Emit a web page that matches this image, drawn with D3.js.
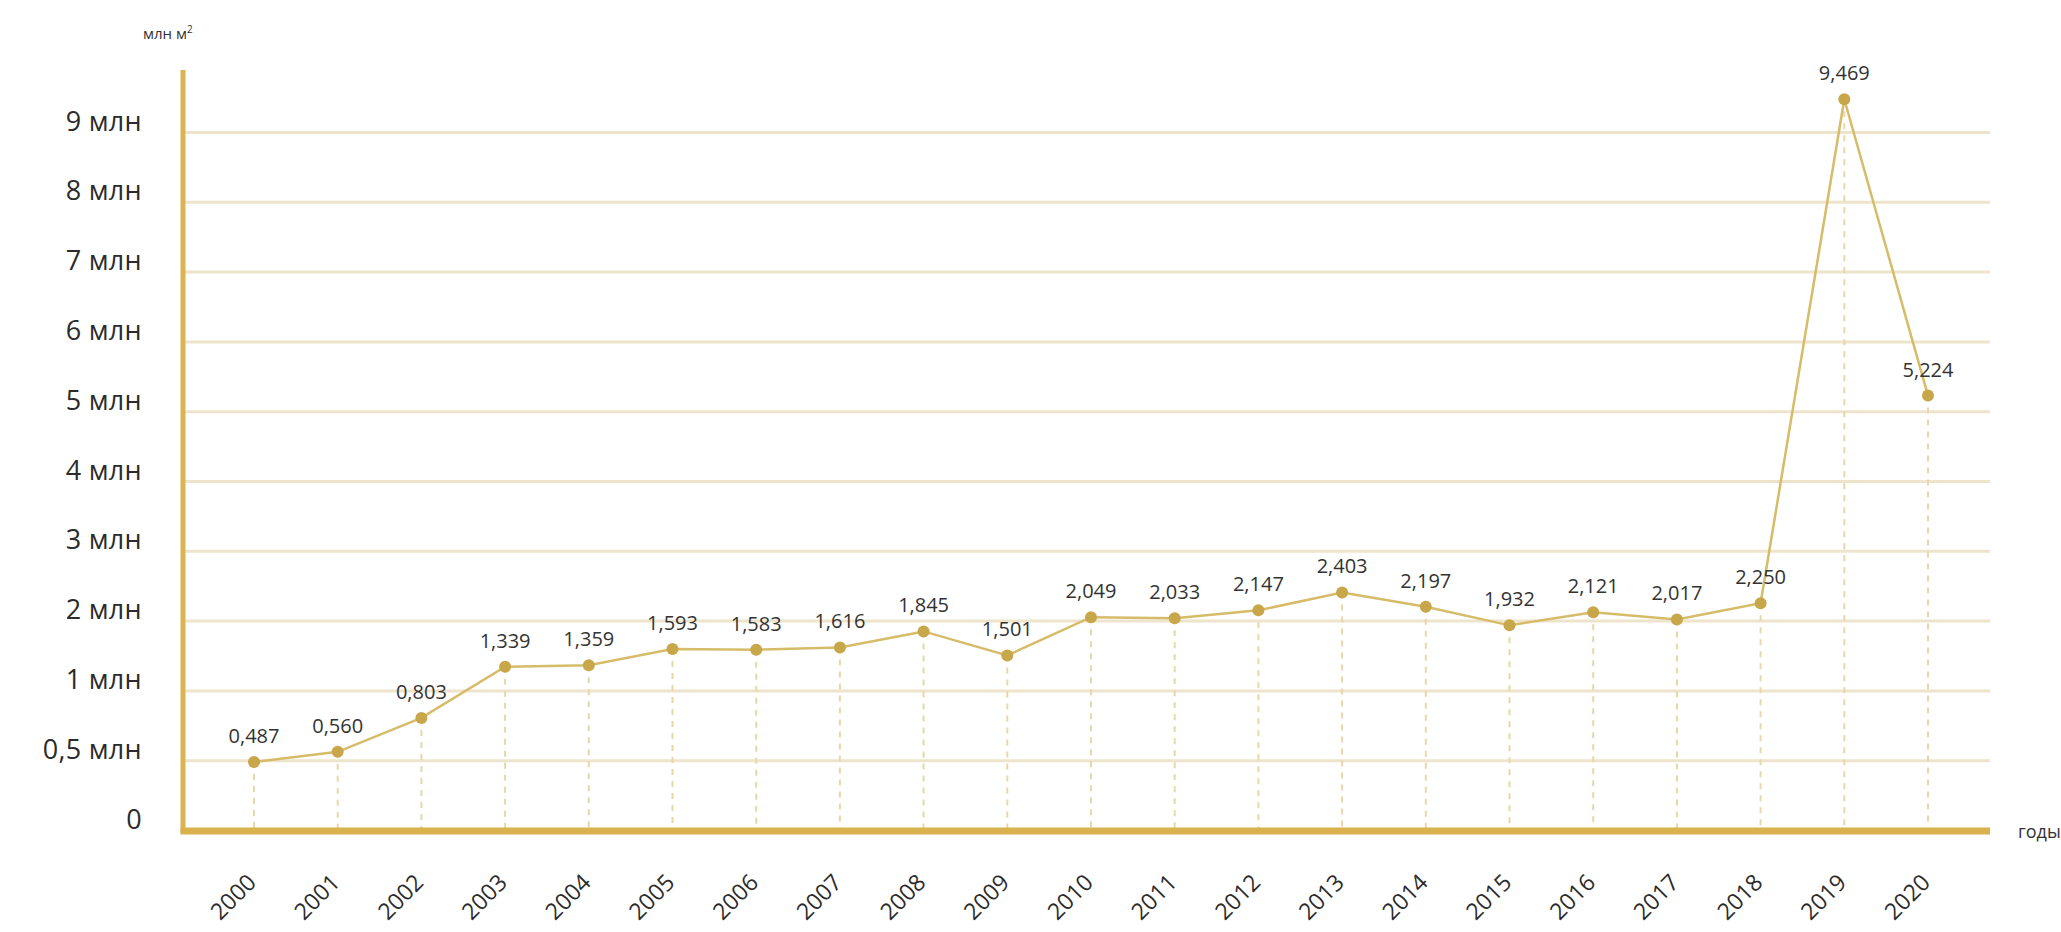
<!DOCTYPE html>
<html>
<head>
<meta charset="utf-8">
<script src="https://cdn.jsdelivr.net/npm/d3@7"></script>
<style>
  html, body { margin: 0; padding: 0; background: #ffffff; }
  svg { display: block; font-family: "Open Sans", "Noto Sans", sans-serif; }
</style>
</head>
<body>
<svg id="chart" width="2061" height="932"></svg>
<script>
// ---- data ----
const years = ["2000","2001","2002","2003","2004","2005","2006","2007","2008","2009","2010",
               "2011","2012","2013","2014","2015","2016","2017","2018","2019","2020"];
const values = [0.487, 0.560, 0.803, 1.339, 1.359, 1.593, 1.583, 1.616, 1.845, 1.501, 2.049,
                2.033, 2.147, 2.403, 2.197, 1.932, 2.121, 2.017, 2.250, 9.469, 5.224];
const valueLabels = ["0,487","0,560","0,803","1,339","1,359","1,593","1,583","1,616","1,845","1,501","2,049",
                     "2,033","2,147","2,403","2,197","1,932","2,121","2,017","2,250","9,469","5,224"];
const yTickValues = [0, 0.5, 1, 2, 3, 4, 5, 6, 7, 8, 9];
const yTickLabels = ["0", "0,5 млн", "1 млн", "2 млн", "3 млн", "4 млн", "5 млн", "6 млн", "7 млн", "8 млн", "9 млн"];
const yTitle = "млн м";
const xTitle = "годы";

// ---- layout ----
const svg = d3.select("#chart");
const axisX = 183, plotRight = 1990;
const yBottom = 830, yTop = 132;
const step = (yBottom - yTop) / (yTickValues.length - 1);

const x = d3.scalePoint().domain(years).range([254, 1928]);
const y = d3.scaleLinear()
  .domain(yTickValues)
  .range(yTickValues.map((d, i) => yBottom - i * step));

// gridlines + y labels
const yAxis = d3.axisLeft(y)
  .tickValues(yTickValues)
  .tickFormat((d, i) => yTickLabels[i])
  .tickSize(-(plotRight - axisX))
  .tickPadding(41);
const gy = svg.append("g").attr("transform", `translate(${axisX},0)`).call(yAxis);
gy.select(".domain").remove();
gy.selectAll(".tick line").attr("stroke", "#eee4cc").attr("stroke-width", 3);
gy.selectAll(".tick text")
  .attr("dy", -2)
  .attr("fill", "#2b2b2b")
  .style("font-size", "27px")
  .style("letter-spacing", "0.3px")
  .style("font-family", "'Open Sans', sans-serif");

// drop lines
svg.append("g").selectAll("line").data(values).join("line")
  .attr("x1", (d, i) => x(years[i])).attr("x2", (d, i) => x(years[i]))
  .attr("y1", d => y(d)).attr("y2", y(0))
  .attr("stroke", "#e8d7a8").attr("stroke-width", 2).attr("stroke-dasharray", "6,6");

// axes lines
svg.append("line").attr("x1", axisX).attr("x2", axisX).attr("y1", 70).attr("y2", y(0) + 3)
  .attr("stroke", "#dcb452").attr("stroke-width", 5);
svg.append("line").attr("x1", axisX - 2.5).attr("x2", plotRight).attr("y1", y(0) + 1).attr("y2", y(0) + 1)
  .attr("stroke", "#d9b24e").attr("stroke-width", 7);

// x axis labels
const xAxis = d3.axisBottom(x).tickSize(0).tickPadding(0);
const gx = svg.append("g").attr("transform", `translate(0,${y(0) + 54})`).call(xAxis);
gx.select(".domain").remove();
gx.selectAll(".tick text")
  .attr("text-anchor", "end")
  .attr("dy", 0)
  .attr("y", 0)
  .attr("transform", "translate(3,0) rotate(-45)")
  .attr("fill", "#2b2b2b")
  .style("font-size", "23px")
  .style("font-family", "'Open Sans', sans-serif");

// line
const line = d3.line().x((d, i) => x(years[i])).y(d => y(d));
svg.append("path").datum(values).attr("d", line)
  .attr("fill", "none").attr("stroke", "#d6bc68").attr("stroke-width", 2.5);

// points
svg.append("g").selectAll("circle").data(values).join("circle")
  .attr("cx", (d, i) => x(years[i])).attr("cy", d => y(d)).attr("r", 6)
  .attr("fill", "#c8a64a");

// value labels
svg.append("g").selectAll("text").data(values).join("text")
  .attr("x", (d, i) => x(years[i])).attr("y", d => y(d) - 19)
  .attr("text-anchor", "middle")
  .attr("fill", "#333")
  .style("font-size", "20px")
  .text((d, i) => valueLabels[i]);

// titles
const t = svg.append("text").attr("x", 143).attr("y", 39).attr("fill", "#333").style("font-size", "15px");
t.append("tspan").text(yTitle);
t.append("tspan").attr("dy", -6).style("font-size", "10px").text("2");
svg.append("text").attr("x", 2018).attr("y", 838).attr("fill", "#333").style("font-size", "18px").text(xTitle);
</script>
</body>
</html>
